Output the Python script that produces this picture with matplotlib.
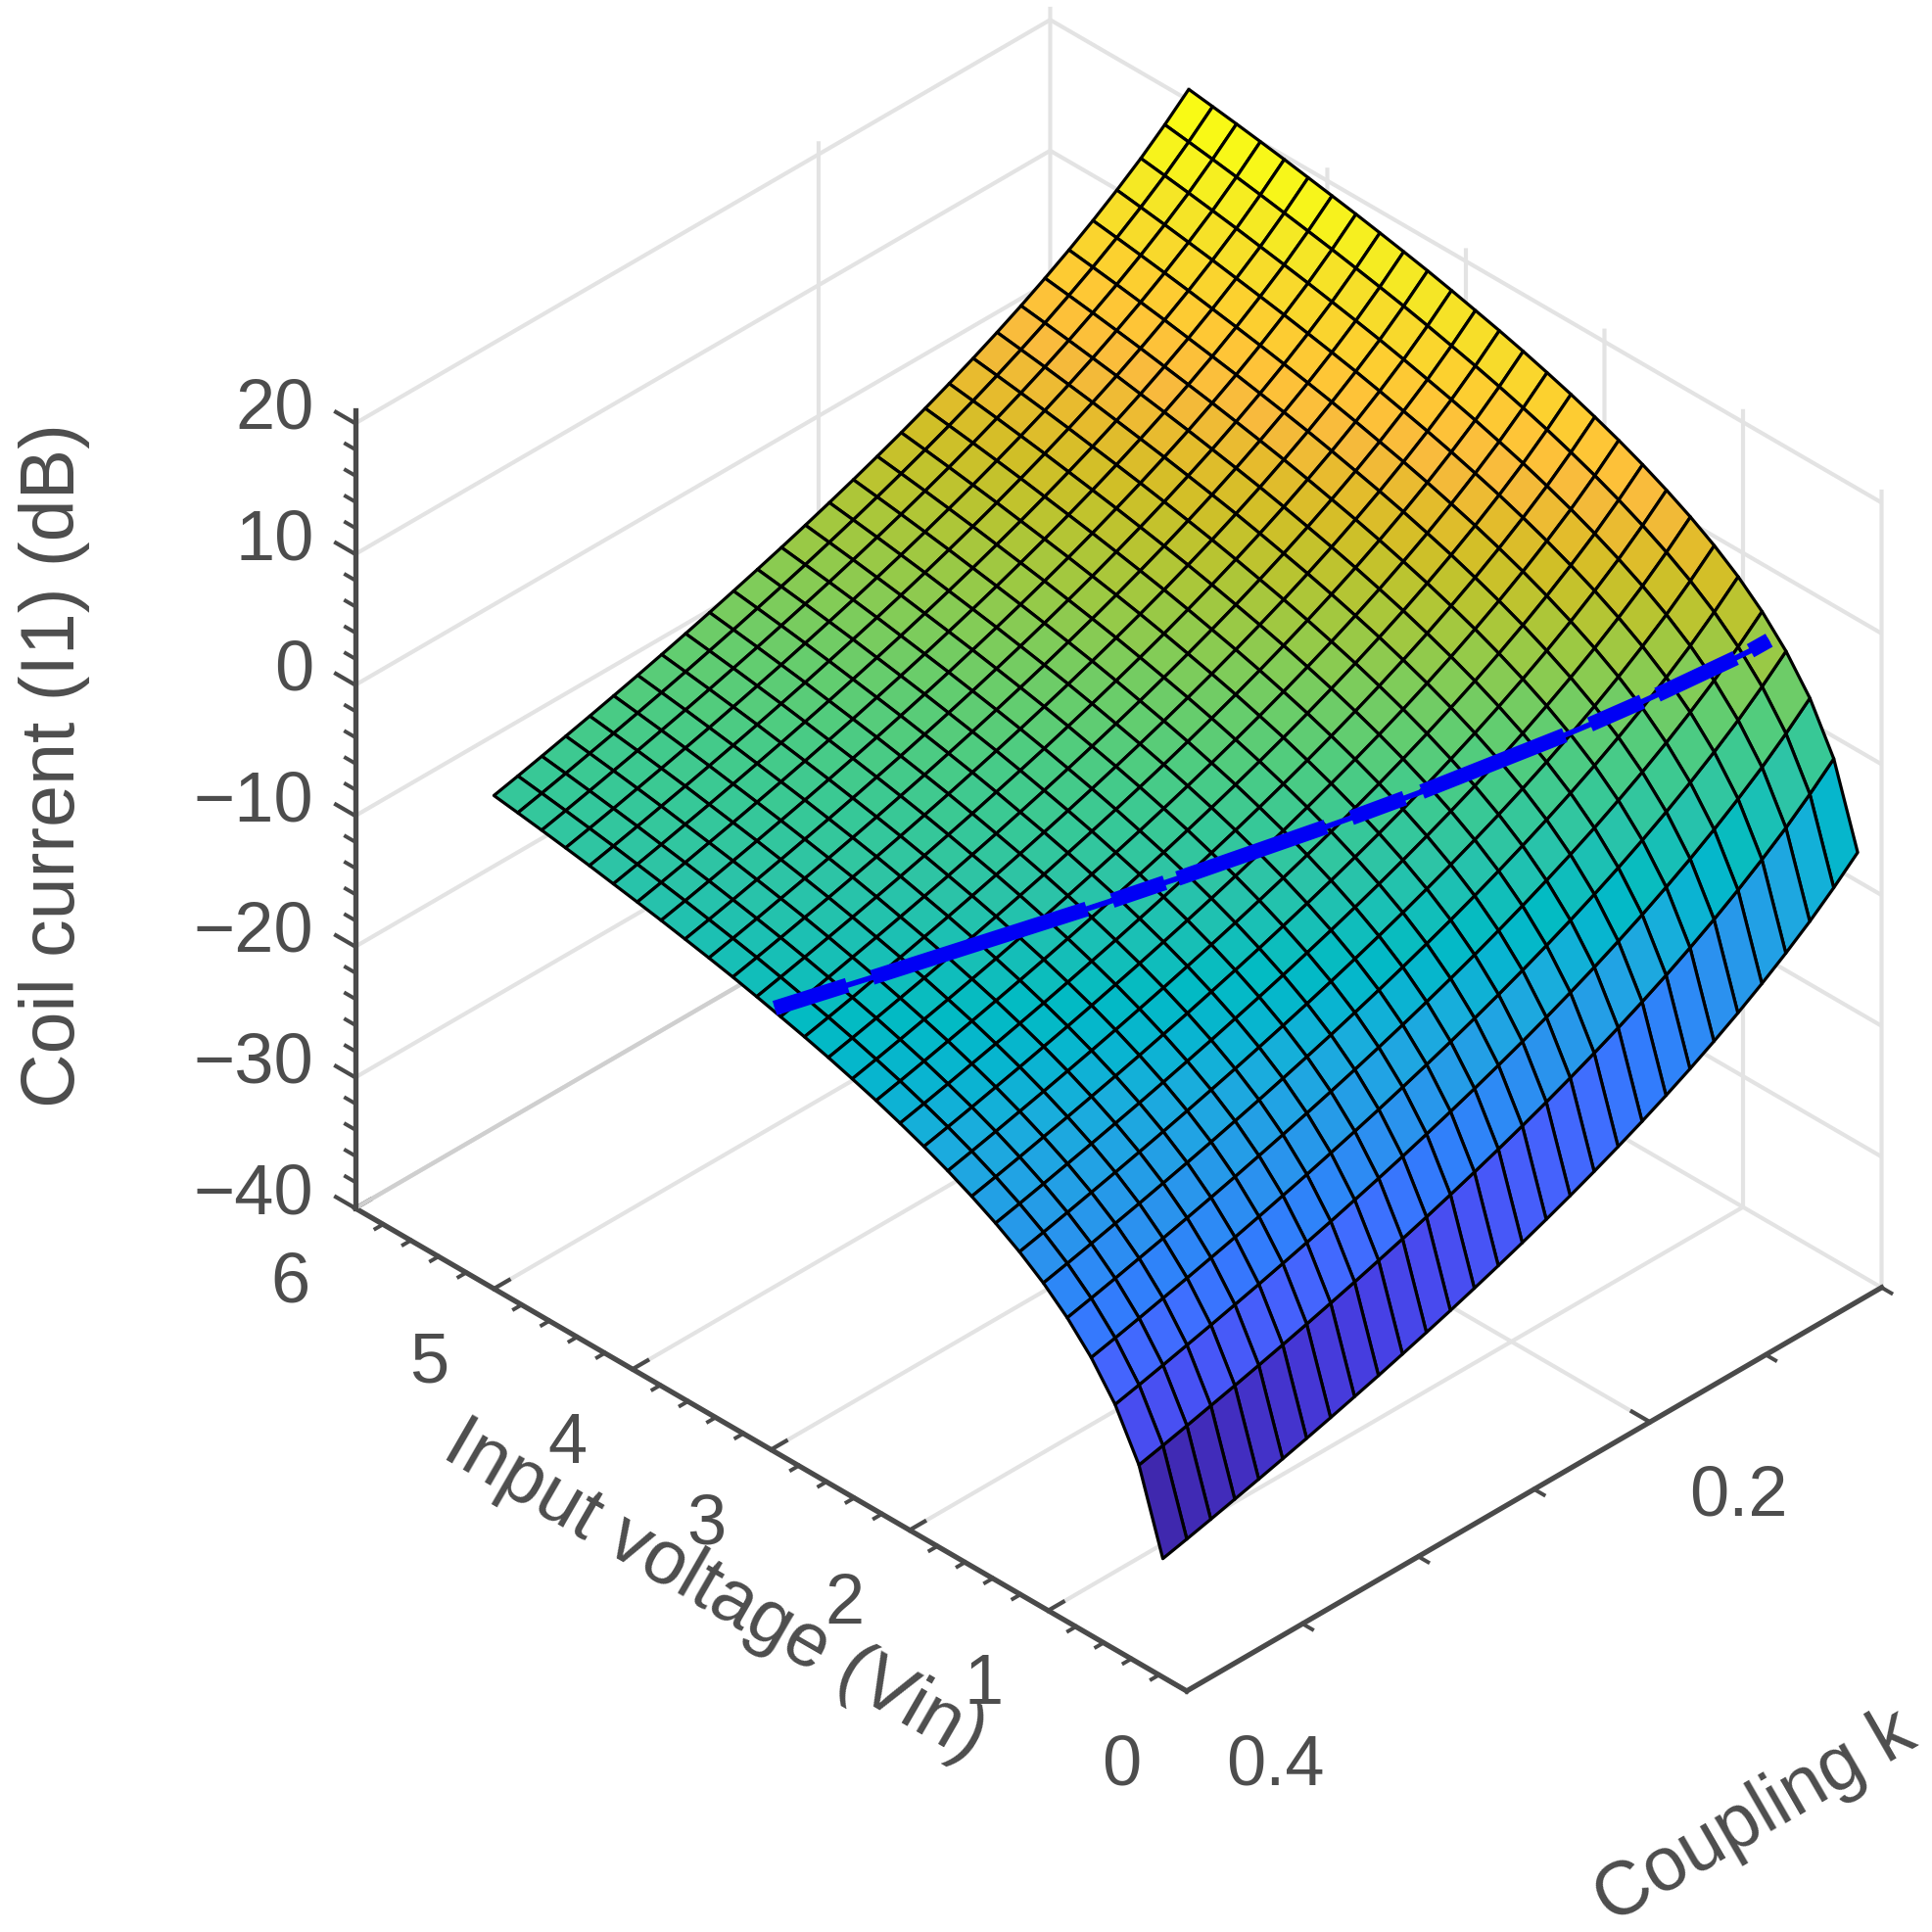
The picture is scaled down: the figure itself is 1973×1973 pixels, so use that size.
import numpy as np
import matplotlib
matplotlib.use("Agg")
import matplotlib.pyplot as plt
from matplotlib.colors import LinearSegmentedColormap, Normalize
from matplotlib.ticker import NullFormatter
from mpl_toolkits.mplot3d import proj3d

plt.rcParams['font.family'] = ['Liberation Sans', 'DejaVu Sans']

# ---- data -----------------------------------------------------------------
vin_step = 5 / 29
vin_values = [vin_step * i for i in range(1, 30)]
k_values = [0.1 + 0.3 * j / 29 for j in range(30)]
# dB contribution of the coupling (one value per k_values entry)
k_part_db = [7.68, 6.04, 4.53, 3.17, 1.90, 0.72, -0.38, -1.42, -2.39, -3.31,
             -4.18, -5.01, -5.80, -6.55, -7.27, -7.96, -8.62, -9.26, -9.87, -10.46,
             -11.04, -11.59, -12.13, -12.65, -13.15, -13.64, -14.11, -14.58, -15.03, -15.46]
# dB contribution of the input voltage (one value per vin_values entry)
vin_part_db = [-15.48, -9.38, -5.81, -3.28, -1.31, 0.29, 1.61, 2.74, 3.73, 4.62,
               5.42, 6.14, 6.81, 7.41, 7.98, 8.50, 8.98, 9.45, 9.89, 10.29,
               10.67, 11.04, 11.38, 11.71, 12.04, 12.34, 12.63, 12.90, 13.16]

# blue line: ends of the visible thick stretches
line_k = [0.3990, 0.3773, 0.3698, 0.3059, 0.2983, 0.2826, 0.2788, 0.2346, 0.2270,
          0.2112, 0.2060, 0.1635, 0.1559, 0.1404, 0.1358, 0.1125, 0.1081, 0.1025]
line_vin = [2.990, 2.830, 2.774, 2.294, 2.237, 2.120, 2.091, 1.760, 1.703,
            1.584, 1.545, 1.226, 1.169, 1.053, 1.019, 0.844, 0.811, 0.770]
line_db = [-6.29, -5.79, -5.62, -4.00, -3.79, -3.32, -3.21, -1.77, -1.51,
           -0.90, -0.70, 1.21, 1.60, 2.46, 2.73, 4.22, 4.52, 5.00]

vin_ticks = [0, 1, 2, 3, 4, 5, 6]
vin_labels = ['0', '1', '2', '3', '4', '5', '6']
vin_minor = [i / 5 for i in range(31) if i % 5]
k_ticks = [0.2, 0.4]
k_labels = ['0.2', '0.4']
k_minor = [0.1, 0.15, 0.25, 0.3, 0.35]
db_ticks = [-40, -30, -20, -10, 0, 10, 20]
db_labels = ['\u221240', '\u221230', '\u221220', '\u221210', '0', '10', '20']
db_minor = [z for z in range(-40, 21, 2) if z % 10]

parula_anchors = [
    (0.2422, 0.1504, 0.6603), (0.2578, 0.1818, 0.7511), (0.2706, 0.2147, 0.8364),
    (0.2783, 0.2559, 0.8991), (0.2813, 0.3006, 0.9414), (0.2795, 0.3447, 0.9717),
    (0.2699, 0.3892, 0.9906), (0.2440, 0.4358, 0.9988), (0.1963, 0.4847, 0.9892),
    (0.1786, 0.5289, 0.9682), (0.1687, 0.5703, 0.9359), (0.1460, 0.6091, 0.9079),
    (0.1248, 0.6459, 0.8883), (0.0952, 0.6798, 0.8598), (0.0297, 0.7082, 0.8163),
    (0.0067, 0.7312, 0.7660), (0.0964, 0.7500, 0.7120), (0.1717, 0.7670, 0.6554),
    (0.2161, 0.7843, 0.5923), (0.2906, 0.7973, 0.5188), (0.3909, 0.8029, 0.4354),
    (0.5044, 0.7993, 0.3480), (0.6174, 0.7876, 0.2612), (0.7242, 0.7698, 0.1910),
    (0.8203, 0.7498, 0.1535), (0.9035, 0.7330, 0.1774), (0.9728, 0.7298, 0.2394),
    (0.9970, 0.7659, 0.2199), (0.9892, 0.8130, 0.1885), (0.9676, 0.8639, 0.1650),
    (0.9597, 0.9135, 0.1423), (0.9691, 0.9606, 0.1064), (0.9769, 0.9839, 0.0805)]
parula = LinearSegmentedColormap.from_list('parula', parula_anchors, N=256)

AXIS_COLOR = '#4a4a4a'
TEXT_COLOR = '#4d4d4d'
GRID_COLOR = '#e3e3e3'
VIN_MAX, K_MAX, K_MIN, DB_MIN, DB_MAX = 6, 0.4, 0.1, -40, 21

V, K = np.meshgrid(vin_values, k_values, indexing='ij')
Z = np.add.outer(vin_part_db, k_part_db)
norm = Normalize(Z.min(), Z.max())

fig = plt.figure(figsize=(19.73, 19.73), dpi=100, facecolor='white')
ax = fig.add_axes([0.0654, 0.0471, 1, 1], projection='3d', proj_type='ortho',
                  computed_zorder=False)
ax.patch.set_alpha(0)
ax.view_init(elev=35.5, azim=135)
ax.set_box_aspect((956, 799, 797), zoom=0.914)

ax.plot_surface(V, K, Z, facecolors=parula(norm(Z)), rstride=1, cstride=1, shade=False,
                edgecolor='black', linewidth=2.3, antialiased=True, zorder=2)

# thin connection and thick stretches of the blue line
ax.plot(line_vin, line_k, line_db, color='#0000f5', lw=4.0, zorder=3, solid_capstyle='butt')
for i in range(0, len(line_k), 2):
    ax.plot(line_vin[i:i + 2], line_k[i:i + 2], line_db[i:i + 2], color='#0000f5', lw=11,
            zorder=3, solid_capstyle='butt')

# darker floor edge
ax.plot([VIN_MAX, VIN_MAX], [K_MIN, K_MAX], [DB_MIN, DB_MIN], color='#cfcfcf', lw=3, zorder=1)

# minor ticks
for v in vin_minor:
    ax.plot([v, v], [K_MAX, K_MAX + 0.0033], [DB_MIN, DB_MIN], color=AXIS_COLOR, lw=2.8, zorder=1)
for c in k_minor:
    ax.plot([0, -0.07], [c, c], [DB_MIN, DB_MIN], color=AXIS_COLOR, lw=2.8, zorder=1)

# vertical axis sits at the corner (Vin max, k max)
ax.plot([VIN_MAX, VIN_MAX], [K_MAX, K_MAX], [DB_MIN, DB_MAX], color=AXIS_COLOR, lw=3.8, zorder=1)
for z in db_minor:
    ax.plot([VIN_MAX, VIN_MAX + 0.07], [K_MAX, K_MAX], [z, z], color=AXIS_COLOR, lw=2.8, zorder=1)
for z in db_ticks:
    ax.plot([VIN_MAX, VIN_MAX + 0.14], [K_MAX, K_MAX], [z, z], color=AXIS_COLOR, lw=3.0, zorder=1)

ax.set_xticks(vin_ticks)
ax.set_yticks(k_ticks)
ax.set_zticks(db_ticks)

for axis in (ax.xaxis, ax.yaxis, ax.zaxis):
    axis.set_major_formatter(NullFormatter())
    axis.set_pane_color((1, 1, 1, 0))
    axis.pane.set_edgecolor((1, 1, 1, 0))
    axis.line.set_color(AXIS_COLOR)
    axis.line.set_linewidth(3.8)
    axis.offsetText.set_visible(False)
    info = axis._axinfo
    info['grid'].update(color=GRID_COLOR, linewidth=3.0, linestyle='-')
    info['tick'].update(inward_factor=0.0, outward_factor=0.27)
    info['tick']['linewidth'] = {True: 3.0, False: 2.8}
    info['axisline']['color'] = AXIS_COLOR
    info['axisline']['linewidth'] = 3.8
    for tick in axis.get_major_ticks():
        tick.label1.set_visible(False)
        tick.label2.set_visible(False)
ax.tick_params(axis='both', color=AXIS_COLOR)
ax.zaxis.set_ticks_position('none')

ax.set_xlim(0, VIN_MAX, view_margin=0)
ax.set_ylim(K_MIN, K_MAX, view_margin=0)
ax.set_zlim(DB_MIN, DB_MAX, view_margin=0)

# tick labels: placed where the 3D offset point projects to
M = ax.get_proj()
TICK_FS = 52


def tick_text(x, y, z, s, ha='center'):
    px, py, _ = proj3d.proj_transform(x, y, z, M)
    ax.text2D(px, py, s, transform=ax.transData, ha=ha, va='center', fontsize=TICK_FS,
              color=TEXT_COLOR, clip_on=False)


for v, s in zip(vin_ticks, vin_labels):
    tick_text(v, 0.428, -42.9, s)
for c, s in zip(k_ticks, k_labels):
    tick_text(-0.64, c, -41.8, s)
for z, s in zip(db_ticks, db_labels):
    tick_text(6.30, 0.4, z - 0.85, s, ha='right')


def fx(x):
    return x / 1568


def fy(y):
    return 1 - y / 1568


LABEL_FS = 55.5
fig.text(fx(44), fy(621), 'Coil current (I1) (dB)', rotation=90, ha='center', va='center',
         fontsize=LABEL_FS, color=TEXT_COLOR)
fig.text(fx(580), fy(1292), 'Input voltage (Vin)', rotation=-30, rotation_mode='anchor',
         ha='center', va='center', fontsize=LABEL_FS, color=TEXT_COLOR)
fig.text(fx(1425), fy(1475), 'Coupling k', rotation=30, rotation_mode='anchor',
         ha='center', va='center', fontsize=LABEL_FS, color=TEXT_COLOR)

fig.savefig('out.png', dpi=100, facecolor='white')
